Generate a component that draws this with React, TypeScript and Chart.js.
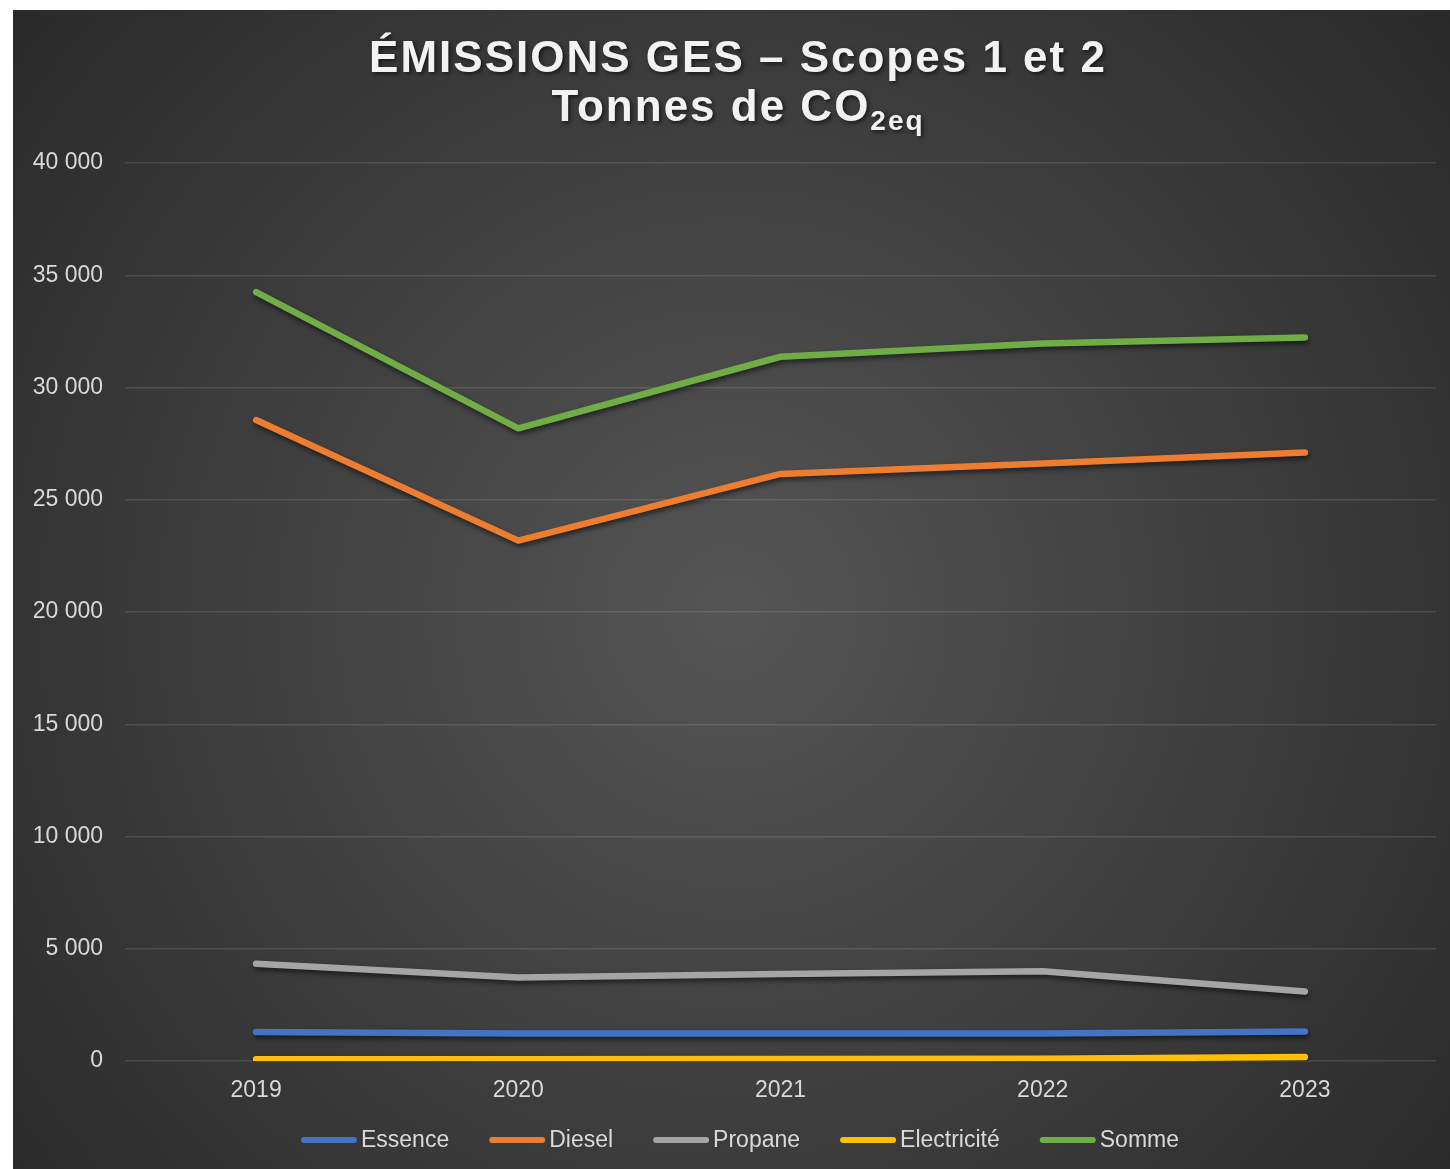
import React, { useEffect, useRef } from "react";
import { Chart, registerables } from "chart.js";

Chart.register(...registerables);

const years = ["2019", "2020", "2021", "2022", "2023"];
const essence = [1290, 1220, 1220, 1220, 1310];
const diesel = [28550, 23180, 26150, 26620, 27100];
const propane = [4330, 3720, 3870, 4000, 3100];
const electricite = [80, 80, 90, 100, 180];
const somme = [34250, 28180, 31370, 31960, 32230];

const seriesNames = ["Essence", "Diesel", "Propane", "Electricité", "Somme"];
const seriesColors = ["#4472C4", "#ED7D31", "#A5A5A5", "#FFC000", "#70AD47"];
const seriesValues = [essence, diesel, propane, electricite, somme];

const titleLine1 = "ÉMISSIONS GES – Scopes 1 et 2";
const titleLine2Main = "Tonnes de CO";
const titleLine2Sub = "2eq";

const FONT = "'Liberation Sans', Arial, Helvetica, sans-serif";
const TEXT_COLOR = "#d9d9d9";

const fmt = (v: number) => String(Math.round(v)).replace(/\B(?=(\d{3})+(?!\d))/g, " ");

export default function App() {
  const ref = useRef<HTMLCanvasElement | null>(null);

  useEffect(() => {
    if (!ref.current) return;

    const bgPlugin = {
      id: "bg",
      beforeDraw(chart: any) {
        const { ctx, width, height } = chart;
        ctx.save();
        const cx = width * 0.5;
        const cy = height * 0.52;
        const g = ctx.createRadialGradient(cx, cy, 0, cx, cy, Math.hypot(width, height) * 0.55);
        g.addColorStop(0, "#555555");
        g.addColorStop(1, "#262626");
        ctx.fillStyle = g;
        ctx.fillRect(0, 0, width, height);
        ctx.restore();
      },
    };

    const shadowPlugin = {
      id: "lineShadow",
      beforeDatasetDraw(chart: any) {
        const ctx = chart.ctx;
        ctx.save();
        ctx.shadowColor = "rgba(0,0,0,0.55)";
        ctx.shadowBlur = 5;
        ctx.shadowOffsetX = 1;
        ctx.shadowOffsetY = 3;
      },
      afterDatasetDraw(chart: any) {
        chart.ctx.restore();
      },
    };

    const titlePlugin = {
      id: "customTitle",
      afterDraw(chart: any) {
        const { ctx } = chart;
        const cx = 725;
        ctx.save();
        ctx.fillStyle = "#f2f2f2";
        ctx.shadowColor = "rgba(0,0,0,0.6)";
        ctx.shadowBlur = 4;
        ctx.shadowOffsetX = 2;
        ctx.shadowOffsetY = 2;
        ctx.textBaseline = "alphabetic";
        ctx.font = `bold 44px ${FONT}`;
        try { (ctx as any).letterSpacing = "2px"; } catch (e) {}
        const w1 = ctx.measureText(titleLine1).width;
        ctx.textAlign = "left";
        ctx.fillText(titleLine1, cx - w1 / 2, 62);
        const wMain = ctx.measureText(titleLine2Main).width;
        ctx.font = `bold 28px ${FONT}`;
        const wSub = ctx.measureText(titleLine2Sub).width;
        const total = wMain + wSub;
        const x0 = cx - total / 2;
        ctx.font = `bold 44px ${FONT}`;
        ctx.fillText(titleLine2Main, x0, 111);
        ctx.font = `bold 28px ${FONT}`;
        ctx.fillText(titleLine2Sub, x0 + wMain, 120);
        ctx.restore();
      },
    };

    const legendPlugin = {
      id: "customLegend",
      afterDraw(chart: any) {
        const { ctx } = chart;
        ctx.save();
        ctx.font = `23px ${FONT}`;
        const boxW = 56;
        const gap = 4;
        const spacing = 40;
        const widths = seriesNames.map((n) => ctx.measureText(n).width);
        let total = 0;
        widths.forEach((w, i) => {
          total += boxW + gap + w + (i < widths.length - 1 ? spacing : 0);
        });
        let x = 727 - total / 2;
        const y = 1130;
        ctx.textBaseline = "middle";
        ctx.textAlign = "left";
        seriesNames.forEach((n, i) => {
          ctx.strokeStyle = seriesColors[i];
          ctx.lineWidth = 6;
          ctx.lineCap = "round";
          ctx.beginPath();
          ctx.moveTo(x + 3, y);
          ctx.lineTo(x + boxW - 3, y);
          ctx.stroke();
          ctx.fillStyle = TEXT_COLOR;
          ctx.fillText(n, x + boxW + gap, y + 1);
          x += boxW + gap + widths[i] + spacing;
        });
        ctx.restore();
      },
    };

    const chart = new Chart(ref.current, {
      type: "line",
      data: {
        labels: years,
        datasets: seriesNames.map((name, i) => ({
          label: name,
          data: seriesValues[i],
          borderColor: seriesColors[i],
          backgroundColor: seriesColors[i],
          borderWidth: 6.5,
          borderCapStyle: "round" as const,
          borderJoinStyle: "round" as const,
          pointRadius: 0,
          pointHoverRadius: 0,
          tension: 0,
          fill: false,
          order: seriesNames.length - i,
        })),
      },
      options: {
        animation: false,
        responsive: false,
        maintainAspectRatio: false,
        events: [],
        layout: { padding: { top: 153, right: 14, left: 0, bottom: 0 } },
        plugins: {
          legend: { display: false },
          title: { display: false },
          tooltip: { enabled: false },
        },
        scales: {
          x: {
            offset: true,
            grid: { display: false, drawTicks: false },
            border: { display: false },
            ticks: {
              color: TEXT_COLOR,
              font: { family: FONT, size: 23 },
              padding: 16,
              maxRotation: 0,
            },
            afterFit(scale: any) {
              scale.height = 108;
            },
          },
          y: {
            min: 0,
            max: 40000,
            ticks: {
              stepSize: 5000,
              color: TEXT_COLOR,
              font: { family: FONT, size: 23 },
              padding: 22,
              callback: (v: any) => fmt(Number(v)),
            },
            grid: {
              color: "rgba(255,255,255,0.12)",
              lineWidth: 1.5,
              drawTicks: false,
            },
            border: { display: false },
            afterFit(scale: any) {
              scale.width = 112;
            },
          },
        },
      },
      plugins: [bgPlugin, shadowPlugin, titlePlugin, legendPlugin],
    });

    return () => chart.destroy();
  }, []);

  return (
    <div style={{ position: "fixed", left: 13, top: 10, width: 1437, height: 1159 }}>
      <canvas ref={ref} width={1437} height={1159} style={{ display: "block", width: 1437, height: 1159 }} />
    </div>
  );
}
